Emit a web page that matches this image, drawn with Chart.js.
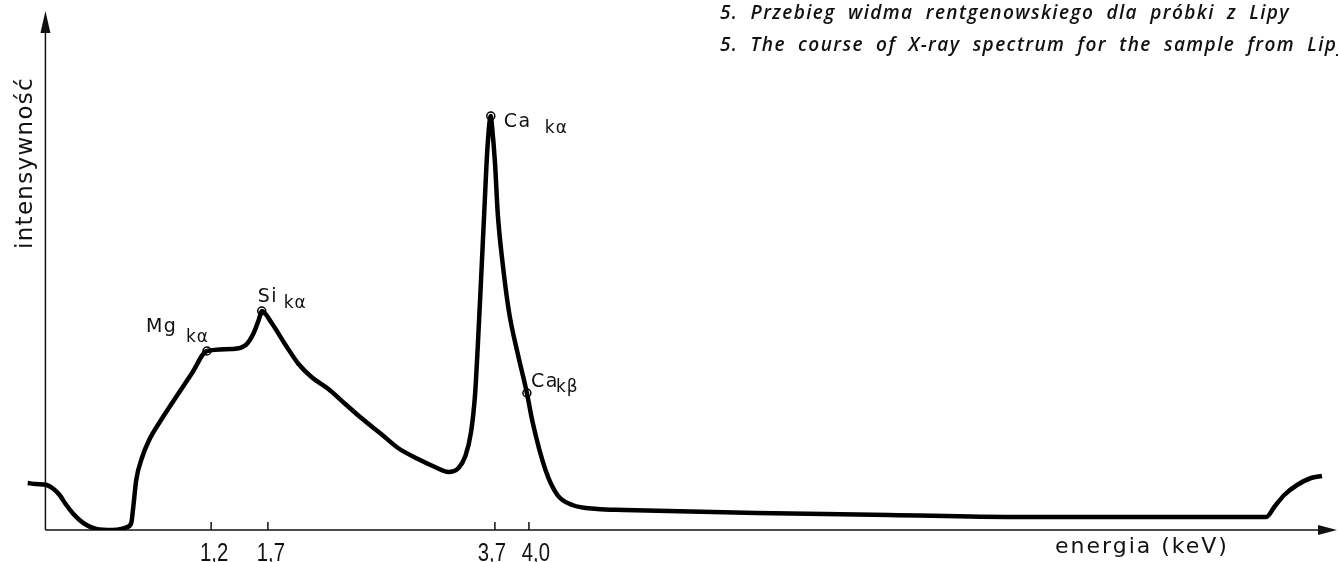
<!DOCTYPE html>
<html>
<head>
<meta charset="utf-8">
<script src="https://cdn.jsdelivr.net/npm/chart.js@4"></script>
<style>
  html, body { margin: 0; padding: 0; background: #fff; }
  #wrap { width: 1338px; height: 562px; }
</style>
</head>
<body>
<div id="wrap"><canvas id="chart" width="1338" height="562"></canvas></div>
<script>
// spectrum (energy in keV, intensity in arbitrary units)
const energy = [
  -0.416, -0.346, -0.249, -0.188, -0.135, -0.082, -0.021, 0.040, 0.102, 0.189,
  0.330, 0.409, 0.461, 0.496, 0.514, 0.540, 0.593, 0.654, 0.742, 0.891,
  1.032, 1.163, 1.382, 1.505, 1.575, 1.619, 1.646, 1.733, 1.856, 1.970,
  2.084, 2.233, 2.382, 2.523, 2.698, 2.847, 3.023, 3.172, 3.290, 3.380,
  3.440, 3.490, 3.525, 3.549, 3.578, 3.606, 3.635, 3.664, 3.672, 3.701,
  3.725, 3.768, 3.826, 3.900, 3.982, 4.032, 4.146, 4.251, 4.383, 4.602,
  4.839, 6.006, 7.173, 8.286, 9.426, 10.497, 10.567, 10.655, 10.768, 10.891,
  10.987
];
const intensity = [
  47, 46, 45, 41, 35, 26, 17, 10, 5, 1,
  0, 1, 3, 7, 23, 50, 73, 90, 107, 133,
  157, 179, 181, 185, 197, 210, 219, 207, 185, 166,
  153, 141, 126, 112, 96, 82, 71, 63, 58, 62,
  74, 98, 135, 183, 250, 317, 383, 414, 407, 367,
  317, 267, 217, 177, 137, 108, 60, 35, 25, 21,
  20, 17, 15, 13, 13, 13, 23, 35, 45, 52,
  54
];

// marked lines
const peakElement = ['Mg', 'Si', 'Ca', 'Ca'];
const peakLine = ['kα', 'kα', 'kα', 'kβ'];
const peakEnergy = [1.163, 1.646, 3.664, 3.982];
const peakIntensity = [179, 219, 414, 137];

// x axis ticks
const tickValues = [1.2, 1.7, 3.7, 4.0];
const tickLabels = ['1,2', '1,7', '3,7', '4,0'];

const titleLines = [
  '5. Przebieg widma rentgenowskiego dla próbki z Lipy',
  '5. The course of X-ray spectrum for the sample from Lipy'
];
const xTitle = 'energia (keV)';
const yTitle = 'intensywność';

const ink = '#111';

const drawing = {
  id: 'drawing',
  beforeDatasetsDraw(chart) {
    const { ctx, scales: { x, y } } = chart;
    const ax = x.getPixelForValue(-0.26);
    const ay = y.getPixelForValue(0);
    ctx.save();
    ctx.strokeStyle = ink;
    ctx.fillStyle = ink;
    ctx.lineWidth = 1.5;
    // y axis with arrow
    ctx.beginPath();
    ctx.moveTo(ax, ay);
    ctx.lineTo(ax, 30);
    ctx.stroke();
    ctx.beginPath();
    ctx.moveTo(ax, 11);
    ctx.lineTo(ax - 5, 33);
    ctx.lineTo(ax + 5, 33);
    ctx.closePath();
    ctx.fill();
    // x axis with arrow
    ctx.beginPath();
    ctx.moveTo(ax, ay);
    ctx.lineTo(1322, ay);
    ctx.stroke();
    ctx.beginPath();
    ctx.moveTo(1337, ay);
    ctx.lineTo(1318, ay - 5);
    ctx.lineTo(1318, ay + 5);
    ctx.closePath();
    ctx.fill();
    // ticks
    tickValues.forEach((v) => {
      const px = x.getPixelForValue(v);
      ctx.beginPath();
      ctx.moveTo(px, ay);
      ctx.lineTo(px, ay - 8);
      ctx.stroke();
    });
    ctx.restore();
  },
  afterDraw(chart) {
    const { ctx, scales: { x, y } } = chart;
    ctx.save();
    ctx.fillStyle = ink;

    // tick labels, narrow lettering
    ctx.font = '26px "Liberation Sans"';
    ctx.textAlign = 'center';
    ctx.textBaseline = 'alphabetic';
    tickValues.forEach((v, i) => {
      const px = x.getPixelForValue(v) + (v > 3.8 ? 7 : v > 3.5 ? -3 : 3);
      ctx.save();
      ctx.translate(px, 561);
      ctx.scale(0.78, 1);
      ctx.fillText(tickLabels[i], 0, 0);
      ctx.restore();
    });

    // axis titles
    ctx.textAlign = 'left';
    ctx.font = '22px "DejaVu Sans"';
    ctx.letterSpacing = '2px';
    ctx.fillText(xTitle, 1055, 553);

    ctx.save();
    ctx.translate(32, 249);
    ctx.rotate(-Math.PI / 2);
    ctx.font = '23px "DejaVu Sans"';
    ctx.letterSpacing = '1.3px';
    ctx.fillText(yTitle, 0, 0);
    ctx.restore();

    // peak labels: [name dx, name dy, sub dx, sub dy]
    const offs = [[-61, -19, -21, -9], [-4, -9, 22, -3], [13, 11, 54, 17], [4, -6, 29, -1]];
    peakEnergy.forEach((e, i) => {
      const px = x.getPixelForValue(e);
      const py = y.getPixelForValue(peakIntensity[i]);
      const o = offs[i];
      ctx.font = '19px "DejaVu Sans"';
      ctx.letterSpacing = '1.5px';
      ctx.fillText(peakElement[i], px + o[0], py + o[1]);
      ctx.font = '17px "DejaVu Sans"';
      ctx.letterSpacing = '1px';
      ctx.fillText(peakLine[i], px + o[2], py + o[3]);
    });

    // caption, word gaps stretched to the printed width
    ctx.font = 'italic 600 19px "Open Sans"';
    ctx.letterSpacing = '1.4px';
    ctx.wordSpacing = '0px';
    const natural = ctx.measureText(titleLines[0]).width;
    const gaps = titleLines[0].split(' ').length - 1;
    ctx.wordSpacing = Math.max(0, (570 - natural) / gaps).toFixed(2) + 'px';
    ctx.fillText(titleLines[0], 720, 19);
    ctx.fillText(titleLines[1], 720, 51);
    ctx.restore();
  }
};

new Chart(document.getElementById('chart'), {
  type: 'line',
  data: {
    datasets: [
      {
        data: energy.map((e, i) => ({ x: e, y: intensity[i] })),
        borderColor: '#000',
        borderWidth: 4.5,
        pointRadius: 0,
        cubicInterpolationMode: 'monotone',
        fill: false
      },
      {
        data: peakEnergy.map((e, i) => ({ x: e, y: peakIntensity[i] })),
        showLine: false,
        pointRadius: 4,
        pointBackgroundColor: '#fff',
        pointBorderColor: '#000',
        pointBorderWidth: 1.5
      }
    ]
  },
  options: {
    responsive: false,
    devicePixelRatio: 1,
    animation: false,
    layout: { padding: { left: 25, right: 0, top: 10, bottom: 32 } },
    scales: {
      x: { type: 'linear', min: -0.44, max: 11.08, display: false },
      y: { min: 0, max: 520, display: false }
    },
    plugins: {
      legend: { display: false },
      tooltip: { enabled: false }
    }
  },
  plugins: [drawing]
});
</script>
</body>
</html>
